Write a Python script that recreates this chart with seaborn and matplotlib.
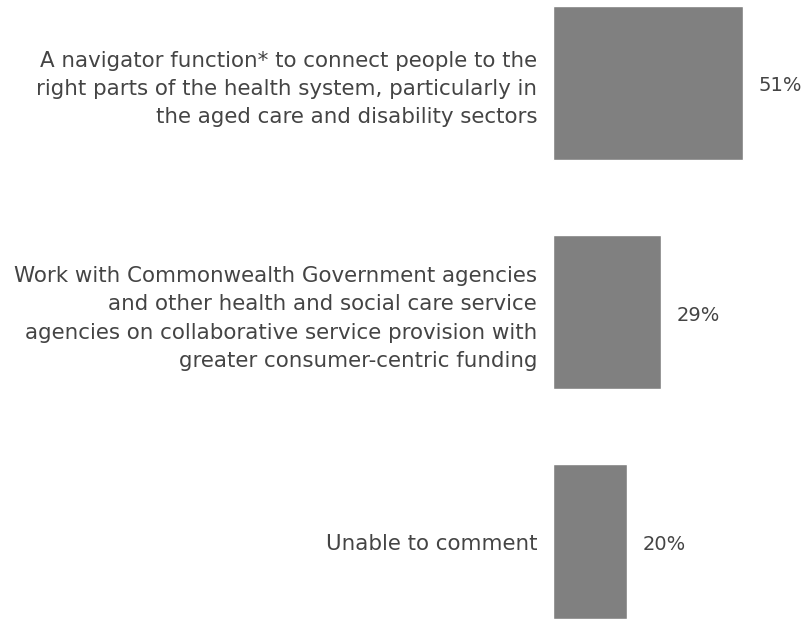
import seaborn as sns
import matplotlib.pyplot as plt
import pandas as pd

# Survey responses
categories = [
    "A navigator function* to connect people to the\nright parts of the health system, particularly in\nthe aged care and disability sectors",
    "Work with Commonwealth Government agencies\nand other health and social care service\nagencies on collaborative service provision with\ngreater consumer-centric funding",
    "Unable to comment",
]
values = [51, 29, 20]
value_labels = ["51%", "29%", "20%"]

df = pd.DataFrame({"Category": categories, "Value": values})

sns.set_theme(style="white")
plt.rcParams['font.family'] = ['DejaVu Sans']

fig = plt.figure(figsize=(8.04, 6.19), dpi=100)
ax = fig.add_axes([553 / 804, 0, 251 / 804, 1])

sns.barplot(data=df, y="Category", x="Value", orient="h", color="#808080",
            saturation=1, width=0.672, ax=ax)

ax.set_xlim(0, 67.4)
ax.set_ylim(2.338, -0.362)

# value labels to the right of each bar
for i, (v, lab) in enumerate(zip(values, value_labels)):
    ax.annotate(lab, xy=(v, i), xytext=(11, -2), textcoords="offset points",
                ha="left", va="center", fontsize=14, color="#444444")

ax.tick_params(axis="y", length=0, pad=11.5, labelsize=15.4, labelcolor="#444444")
for t in ax.get_yticklabels():
    t.set_linespacing(1.52)
ax.set_xticks([])
ax.set_xlabel("")
ax.set_ylabel("")
sns.despine(ax=ax, left=True, bottom=True)

plt.savefig("out.png", dpi=100)
